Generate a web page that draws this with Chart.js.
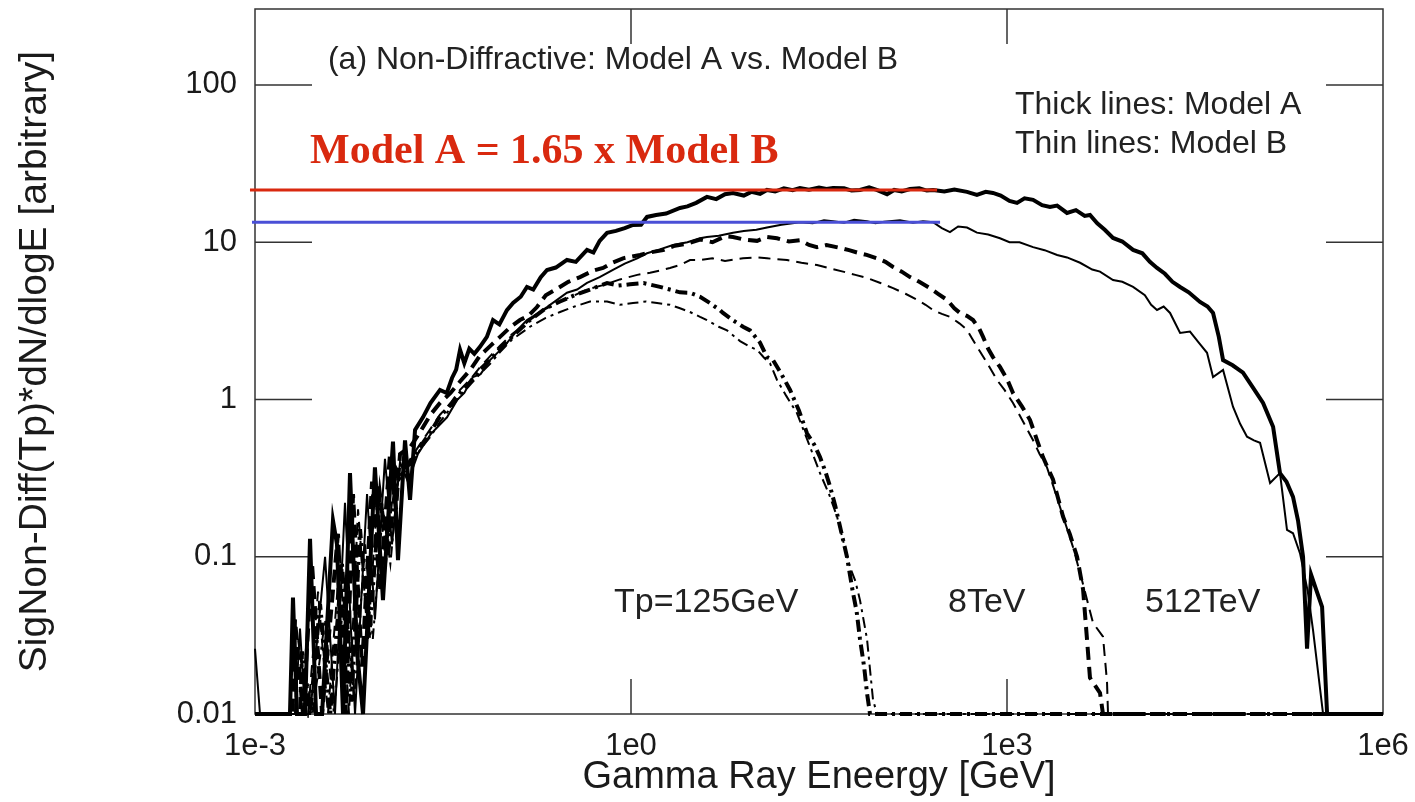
<!DOCTYPE html>
<html><head><meta charset="utf-8">
<script src="https://cdn.jsdelivr.net/npm/chart.js@4.4.0/dist/chart.umd.min.js"></script>
<style>html,body{margin:0;padding:0;background:#fff;}canvas{display:block;}</style>
</head><body>
<canvas id="c" width="1415" height="802"></canvas>
<script>
// ---- axis ticks ----
const xTickValues = [1e-3, 1, 1e3, 1e6];
const xTickLabels = ['1e-3', '1e0', '1e3', '1e6'];
const yTickValues = [0.01, 0.1, 1, 10, 100];
const yTickLabels = ['0.01', '0.1', '1', '10', '100'];

// ---- series: [log10(E/GeV), value] ----
const A512 = [[-3.000,0.01],[-2.721,0.01],[-2.697,0.055],[-2.665,0.01],[-2.601,0.01],[-2.561,0.13],[-2.513,0.01],[-2.465,0.01],[-2.378,0.17],[-2.346,0.12],[-2.298,0.01],[-2.242,0.34],[-2.186,0.025],[-2.138,0.01],[-2.043,0.37],[-1.979,0.053],[-1.899,0.54],[-1.859,0.095],[-1.803,0.55],[-1.763,0.23],[-1.723,0.64],[-1.660,0.77],[-1.600,0.95],[-1.524,1.15],[-1.470,1.10],[-1.428,1.37],[-1.395,1.55],[-1.364,2.07],[-1.330,1.70],[-1.290,2.10],[-1.250,1.95],[-1.205,2.16],[-1.150,2.5],[-1.101,3.2],[-1.050,3.0],[-0.990,3.7],[-0.941,4.11],[-0.880,4.5],[-0.830,5.19],[-0.780,5.0],[-0.720,6.0],[-0.670,6.66],[-0.600,6.9],[-0.511,7.71],[-0.440,7.5],[-0.351,8.93],[-0.300,8.6],[-0.250,10.2],[-0.191,11.46],[-0.120,11.8],[-0.050,12.3],[0.016,12.88],[0.080,12.9],[0.128,14.48],[0.200,14.9],[0.280,15.2],[0.391,16.52],[0.450,16.9],[0.520,17.8],[0.606,19.41],[0.680,18.8],[0.750,20.2],[0.814,20.57],[0.900,19.8],[0.960,20.9],[1.030,20.3],[1.085,21.49],[1.150,21.0],[1.220,22.0],[1.290,21.4],[1.348,22.13],[1.420,21.6],[1.500,22.3],[1.560,21.8],[1.612,22.13],[1.700,22.0],[1.760,21.3],[1.827,21.49],[1.900,22.3],[1.960,21.5],[2.043,20.2],[2.100,21.5],[2.160,21.0],[2.226,21.8],[2.300,22.0],[2.360,21.3],[2.410,21.49],[2.500,21.0],[2.580,21.6],[2.681,20.89],[2.760,20.0],[2.830,20.9],[2.888,20.57],[2.950,19.8],[3.020,18.3],[3.080,17.78],[3.140,19.0],[3.208,18.58],[3.280,17.2],[3.343,16.76],[3.400,17.1],[3.479,15.35],[3.550,16.0],[3.620,14.7],[3.662,14.89],[3.720,13.2],[3.780,12.0],[3.846,10.64],[3.920,10.1],[4.006,8.93],[4.080,8.5],[4.140,7.5],[4.197,6.86],[4.260,6.3],[4.320,5.6],[4.381,5.19],[4.450,4.8],[4.540,4.17],[4.600,3.9],[4.644,3.55],[4.690,2.5],[4.724,1.78],[4.800,1.65],[4.883,1.48],[4.960,1.2],[5.043,0.95],[5.123,0.67],[5.178,0.34],[5.230,0.30],[5.282,0.24],[5.322,0.17],[5.362,0.10],[5.394,0.026],[5.426,0.077],[5.466,0.062],[5.514,0.048],[5.554,0.01],[6.000,0.01]];
const B512 = [[-3.000,0.026],[-2.960,0.01],[-2.680,0.01],[-2.641,0.035],[-2.600,0.01],[-2.560,0.01],[-2.441,0.10],[-2.362,0.01],[-2.282,0.22],[-2.202,0.01],[-2.106,0.25],[-2.043,0.04],[-1.963,0.42],[-1.907,0.12],[-1.843,0.40],[-1.780,0.30],[-1.700,0.45],[-1.600,0.60],[-1.468,0.77],[-1.388,0.99],[-1.330,1.10],[-1.261,1.39],[-1.200,1.45],[-1.125,1.78],[-1.060,2.0],[-0.989,2.29],[-0.900,2.8],[-0.830,3.20],[-0.750,3.5],[-0.670,3.87],[-0.590,4.3],[-0.511,4.77],[-0.430,5.0],[-0.351,5.51],[-0.250,6.0],[-0.144,6.66],[-0.050,7.3],[0.050,7.9],[0.128,8.5],[0.230,9.0],[0.335,9.6],[0.450,10.0],[0.550,10.6],[0.606,10.8],[0.700,11.0],[0.814,11.5],[0.900,11.8],[1.000,12.0],[1.085,12.4],[1.200,12.9],[1.348,13.4],[1.450,13.2],[1.540,13.8],[1.612,13.6],[1.700,13.3],[1.780,13.9],[1.883,13.6],[1.950,13.2],[2.020,13.5],[2.146,13.8],[2.250,13.3],[2.330,13.6],[2.410,13.4],[2.480,12.3],[2.545,11.6],[2.610,12.6],[2.681,12.4],[2.760,11.5],[2.850,11.2],[2.944,10.6],[3.020,10.0],[3.100,10.0],[3.208,9.3],[3.300,8.9],[3.400,8.3],[3.479,8.0],[3.583,7.4],[3.680,6.7],[3.742,6.5],[3.846,5.75],[3.920,5.6],[4.006,5.2],[4.100,4.6],[4.150,4.0],[4.197,3.71],[4.250,3.9],[4.301,3.55],[4.381,2.65],[4.460,2.70],[4.530,2.3],[4.596,1.98],[4.644,1.39],[4.724,1.54],[4.803,0.90],[4.860,0.70],[4.915,0.58],[4.970,0.55],[5.019,0.53],[5.099,0.294],[5.178,0.34],[5.234,0.148],[5.282,0.141],[5.338,0.105],[5.400,0.06],[5.442,0.034],[5.522,0.01],[6.000,0.01]];
const A8 = [[-3.000,0.01],[-2.700,0.01],[-2.681,0.04],[-2.617,0.01],[-2.545,0.09],[-2.465,0.01],[-2.338,0.14],[-2.274,0.01],[-2.218,0.25],[-2.146,0.02],[-2.066,0.30],[-2.003,0.06],[-1.923,0.45],[-1.875,0.20],[-1.843,0.45],[-1.760,0.50],[-1.683,0.62],[-1.600,0.80],[-1.524,0.95],[-1.440,1.10],[-1.364,1.30],[-1.280,1.55],[-1.205,1.90],[-1.120,2.2],[-1.045,2.5],[-0.960,2.9],[-0.886,3.2],[-0.820,3.4],[-0.750,3.87],[-0.680,4.6],[-0.600,5.0],[-0.500,5.6],[-0.407,6.0],[-0.300,6.6],[-0.223,6.86],[-0.150,7.4],[-0.064,7.9],[0.072,8.3],[0.150,8.6],[0.255,8.9],[0.350,9.5],[0.450,9.8],[0.551,10.4],[0.650,10.0],[0.750,10.9],[0.814,10.8],[0.900,10.4],[1.006,10.2],[1.085,10.8],[1.165,10.6],[1.260,10.1],[1.348,10.3],[1.420,9.6],[1.484,9.3],[1.560,9.6],[1.668,9.2],[1.740,8.9],[1.803,8.6],[1.880,8.3],[1.963,7.9],[2.030,7.5],[2.091,6.96],[2.160,6.5],[2.226,6.0],[2.300,5.6],[2.386,5.1],[2.450,4.7],[2.521,4.3],[2.580,3.8],[2.625,3.55],[2.680,3.4],[2.729,3.2],[2.780,2.8],[2.809,2.5],[2.850,2.1],[2.888,1.86],[2.944,1.61],[3.000,1.35],[3.048,1.10],[3.120,0.90],[3.184,0.74],[3.240,0.55],[3.287,0.43],[3.367,0.31],[3.447,0.18],[3.500,0.14],[3.559,0.10],[3.607,0.062],[3.638,0.030],[3.662,0.017],[3.742,0.0136],[3.766,0.01],[6.000,0.01]];
const B8 = [[-3.000,0.01],[-2.680,0.01],[-2.657,0.03],[-2.577,0.01],[-2.497,0.06],[-2.418,0.01],[-2.322,0.10],[-2.250,0.01],[-2.178,0.20],[-2.098,0.03],[-2.019,0.28],[-1.955,0.09],[-1.883,0.35],[-1.843,0.33],[-1.760,0.42],[-1.683,0.52],[-1.600,0.65],[-1.524,0.80],[-1.440,0.95],[-1.364,1.15],[-1.280,1.35],[-1.205,1.60],[-1.120,1.90],[-1.045,2.2],[-0.950,2.6],[-0.806,3.2],[-0.700,3.7],[-0.567,4.2],[-0.450,4.6],[-0.351,5.0],[-0.200,5.4],[-0.088,5.8],[0.050,6.2],[0.152,6.4],[0.230,6.6],[0.311,6.86],[0.400,7.2],[0.471,7.7],[0.551,7.7],[0.650,7.9],[0.750,7.6],[0.894,7.9],[1.000,8.0],[1.085,7.9],[1.160,7.8],[1.245,7.7],[1.360,7.4],[1.484,7.16],[1.590,6.8],[1.692,6.5],[1.790,6.2],[1.883,5.93],[1.990,5.5],[2.091,5.1],[2.190,4.7],[2.282,4.3],[2.350,4.0],[2.410,3.7],[2.480,3.5],[2.545,3.35],[2.620,3.05],[2.681,2.77],[2.720,2.45],[2.761,2.16],[2.841,1.71],[2.920,1.33],[2.980,1.15],[3.048,0.95],[3.130,0.72],[3.208,0.55],[3.260,0.45],[3.319,0.37],[3.370,0.28],[3.423,0.207],[3.480,0.15],[3.527,0.115],[3.600,0.07],[3.686,0.038],[3.766,0.031],[3.798,0.016],[3.806,0.01],[6.000,0.01]];
const A125 = [[-3.000,0.01],[-2.640,0.01],[-2.625,0.025],[-2.560,0.01],[-2.481,0.05],[-2.400,0.01],[-2.306,0.09],[-2.230,0.012],[-2.162,0.15],[-2.090,0.03],[-2.003,0.25],[-1.940,0.10],[-1.867,0.35],[-1.843,0.32],[-1.760,0.40],[-1.683,0.50],[-1.600,0.62],[-1.524,0.78],[-1.440,0.92],[-1.364,1.10],[-1.280,1.30],[-1.205,1.55],[-1.120,1.80],[-1.045,2.1],[-0.950,2.5],[-0.806,3.2],[-0.680,3.8],[-0.566,4.2],[-0.450,4.6],[-0.327,5.0],[-0.191,5.5],[-0.100,5.3],[-0.008,5.4],[0.100,5.5],[0.231,5.2],[0.310,5.0],[0.391,4.8],[0.471,4.77],[0.551,4.5],[0.630,4.1],[0.710,3.7],[0.734,3.55],[0.810,3.2],[0.894,2.9],[0.950,2.75],[1.029,2.3],[1.085,1.86],[1.133,1.78],[1.200,1.45],[1.269,1.15],[1.340,0.85],[1.404,0.61],[1.460,0.52],[1.508,0.43],[1.550,0.35],[1.588,0.28],[1.630,0.21],[1.668,0.155],[1.723,0.10],[1.771,0.059],[1.800,0.045],[1.827,0.030],[1.860,0.02],[1.883,0.0136],[1.907,0.01],[6.000,0.01]];
const B125 = [[-3.000,0.01],[-2.620,0.01],[-2.601,0.02],[-2.540,0.01],[-2.441,0.04],[-2.370,0.01],[-2.282,0.07],[-2.210,0.012],[-2.122,0.12],[-2.060,0.03],[-1.979,0.20],[-1.920,0.09],[-1.859,0.30],[-1.780,0.36],[-1.683,0.48],[-1.600,0.58],[-1.524,0.72],[-1.440,0.88],[-1.364,1.05],[-1.280,1.25],[-1.205,1.45],[-1.120,1.70],[-1.045,2.0],[-0.950,2.4],[-0.806,2.9],[-0.680,3.3],[-0.566,3.6],[-0.450,3.9],[-0.327,4.2],[-0.191,4.2],[-0.090,4.0],[0.016,4.1],[0.120,4.2],[0.208,4.1],[0.311,4.0],[0.391,3.8],[0.470,3.6],[0.551,3.35],[0.606,3.2],[0.700,2.9],[0.766,2.75],[0.790,2.65],[0.870,2.35],[0.950,2.16],[1.006,2.07],[1.060,1.85],[1.109,1.70],[1.165,1.33],[1.240,1.05],[1.324,0.82],[1.420,0.52],[1.508,0.34],[1.580,0.25],[1.644,0.18],[1.700,0.12],[1.747,0.086],[1.790,0.07],[1.827,0.053],[1.883,0.030],[1.931,0.0123],[1.963,0.01],[6.000,0.01]];

// reference levels (Model A peak, Model B peak)
const levelA = [[-3.040,21.5],[2.442,21.5]];
const levelB = [[-3.024,13.4],[2.466,13.4]];

// text annotations: [text, log10E (left), value (anchor)]
const noteTitle = ['(a) Non-Diffractive: Model A vs. Model B', -2.418, 144];
const noteThick = ['Thick lines: Model A', 3.064, 74.7];
const noteThin  = ['Thin lines: Model B', 3.064, 42.2];
const noteRatio = ['Model A = 1.65 x Model B', -2.561, 31.9];
const noteTp = [['Tp=125GeV', -0.135, 0.0508], ['8TeV', 2.529, 0.0508], ['512TeV', 4.101, 0.0508]];

const toPts = a => a.map(p => ({x: Math.pow(10, p[0]), y: p[1]}));
const FONT = "'Liberation Sans', Arial, sans-serif";

const framePlugin = {
  id: 'frame',
  beforeDatasetsDraw(chart) {
    const {ctx, chartArea: a, scales: {x, y}} = chart;
    ctx.save();
    ctx.strokeStyle = '#333';
    ctx.lineWidth = 1.5;
    ctx.strokeRect(a.left, a.top, a.right - a.left, a.bottom - a.top);
    ctx.beginPath();
    yTickValues.forEach(v => {
      const py = y.getPixelForValue(v);
      if (py > a.top + 2 && py < a.bottom - 2) {
        ctx.moveTo(a.left, py); ctx.lineTo(a.left + 57, py);
        ctx.moveTo(a.right, py); ctx.lineTo(a.right - 57, py);
      }
    });
    xTickValues.forEach(v => {
      const px = x.getPixelForValue(v);
      if (px > a.left + 2 && px < a.right - 2) {
        ctx.moveTo(px, a.bottom); ctx.lineTo(px, a.bottom - 35);
        ctx.moveTo(px, a.top); ctx.lineTo(px, a.top + 35);
      }
    });
    ctx.stroke();
    ctx.restore();
  }
};

const textPlugin = {
  id: 'notes',
  afterDraw(chart) {
    const {ctx, scales: {x, y}} = chart;
    const put = (n, font, color, baseline) => {
      ctx.font = font; ctx.fillStyle = color; ctx.textAlign = 'left'; ctx.textBaseline = baseline;
      ctx.fillText(n[0], x.getPixelForValue(Math.pow(10, n[1])), y.getPixelForValue(n[2]));
    };
    ctx.save();
    put(noteTitle, '32px ' + FONT, '#222', 'middle');
    put(noteThick, '32px ' + FONT, '#222', 'middle');
    put(noteThin, '32px ' + FONT, '#222', 'middle');
    noteTp.forEach(n => put(n, '34px ' + FONT, '#222', 'middle'));
    put(noteRatio, "bold 42px 'Liberation Serif', 'Times New Roman', serif", '#d9290f', 'alphabetic');
    ctx.restore();
  }
};

const curve = (data, width, dash) => ({
  data: toPts(data), borderColor: '#000', borderWidth: width, borderDash: dash,
  pointRadius: 0, tension: 0, fill: false, clip: {left: 2, right: 2, top: 0, bottom: 4}
});

new Chart(document.getElementById('c'), {
  type: 'line',
  data: {
    datasets: [
      {data: toPts(levelA), borderColor: '#d9290f', borderWidth: 3, pointRadius: 0, clip: false},
      {data: toPts(levelB), borderColor: '#4a4fd6', borderWidth: 3, pointRadius: 0, clip: false},
      curve(A512, 4, []),
      curve(B512, 2, []),
      curve(A8, 4, [13, 7]),
      curve(B8, 2, [12, 7]),
      curve(A125, 4, [12, 5, 3, 5]),
      curve(B125, 2, [11, 5, 3, 5])
    ]
  },
  options: {
    responsive: false, animation: false, events: [],
    layout: {padding: {left: 0, right: 32, top: 9, bottom: 0}},
    plugins: {legend: {display: false}, tooltip: {enabled: false}},
    scales: {
      x: {
        type: 'logarithmic', min: 1e-3, max: 1e6,
        afterBuildTicks: s => { s.ticks = xTickValues.map(v => ({value: v})); },
        afterFit: s => { s.height = 88; s.paddingLeft = 0; s.paddingRight = 0; },
        grid: {display: false, drawTicks: false},
        border: {display: false},
        ticks: {autoSkip: false, maxRotation: 0, padding: 14, color: '#1a1a1a',
          font: {family: FONT, size: 31},
          callback: (v, i) => xTickLabels[i]},
        title: {display: true, text: 'Gamma Ray Eneergy [GeV]', color: '#1a1a1a',
          font: {family: FONT, size: 38}, padding: {top: 0, bottom: 2}}
      },
      y: {
        type: 'logarithmic', min: 0.01, max: 304,
        afterBuildTicks: s => { s.ticks = yTickValues.map(v => ({value: v})); },
        afterFit: s => { s.width = 255; s.paddingTop = 0; s.paddingBottom = 0; },
        grid: {display: false, drawTicks: false},
        border: {display: false},
        ticks: {autoSkip: false, padding: 18, color: '#1a1a1a',
          font: {family: FONT, size: 31},
          callback: (v, i) => yTickLabels[i]},
        title: {display: true, text: 'SigNon-Diff(Tp)*dN/dlogE [arbitrary]', color: '#1a1a1a',
          font: {family: FONT, size: 39}, padding: {top: 12, bottom: 0}}
      }
    }
  },
  plugins: [framePlugin, textPlugin]
});
</script>
</body></html>
